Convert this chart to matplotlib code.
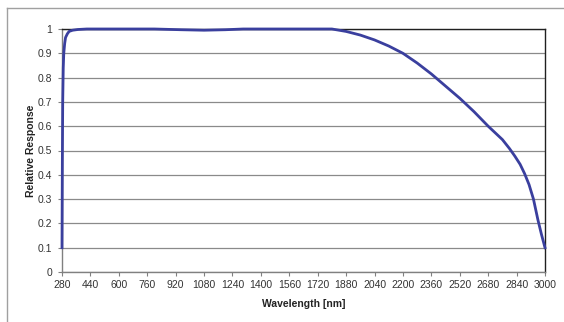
import matplotlib
matplotlib.use("Agg")
import matplotlib.pyplot as plt
from matplotlib.lines import Line2D

wavelength = [280, 282, 284, 287, 290, 295, 300, 310, 320, 340, 370, 420, 600, 800, 950,
              1080, 1200, 1300, 1500, 1700, 1800, 1880, 1960, 2040, 2120, 2200, 2280,
              2360, 2440, 2520, 2600, 2680, 2760, 2800, 2830, 2860, 2885, 2910, 2935, 2960, 2980, 3000]
response = [0.10, 0.45, 0.70, 0.84, 0.90, 0.94, 0.965, 0.98, 0.99, 0.995, 0.998, 1.0, 1.0, 1.0, 0.997,
            0.995, 0.997, 1.0, 1.0, 1.0, 1.0, 0.99, 0.975, 0.955, 0.93, 0.90, 0.86,
            0.815, 0.765, 0.715, 0.66, 0.60, 0.545, 0.508, 0.477, 0.443, 0.405, 0.36, 0.30, 0.215, 0.155, 0.10]
xticks = list(range(280, 3001, 160))
yticks = [0, 0.1, 0.2, 0.3, 0.4, 0.5, 0.6, 0.7, 0.8, 0.9, 1]
ytick_labels = ["0", "0.1", "0.2", "0.3", "0.4", "0.5", "0.6", "0.7", "0.8", "0.9", "1"]

plt.rcParams['font.family'] = ['Liberation Sans', 'DejaVu Sans']

W, H = 564, 322
fig = plt.figure(figsize=(W / 100, H / 100), dpi=100)
ax = fig.add_axes([62 / W, 1 - 272 / H, (545 - 62) / W, (272 - 29) / H])

# outer frame lines (top and left)
fig.add_artist(Line2D([7 / W, 1], [1 - 8 / H, 1 - 8 / H], color="#a0a0a0", lw=1.0, transform=fig.transFigure))
fig.add_artist(Line2D([7 / W, 7 / W], [0, 1 - 8 / H], color="#a0a0a0", lw=1.0, transform=fig.transFigure))

ax.plot(wavelength, response, color="#3a3f9e", lw=2.0, solid_joinstyle="round", zorder=3, clip_on=False)

ax.set_xlim(280, 3000)
ax.set_ylim(0, 1)
ax.set_xticks(xticks)
ax.set_xticklabels([str(v) for v in xticks])
ax.set_yticks(yticks)
ax.set_yticklabels(ytick_labels)
ax.yaxis.grid(True, color="#8a8a8a", lw=0.9)
ax.set_axisbelow(True)

for s in ["left", "bottom"]:
    ax.spines[s].set_color("#808080")
    ax.spines[s].set_linewidth(1.0)
for s in ["top", "right"]:
    ax.spines[s].set_color("#202020")
    ax.spines[s].set_linewidth(1.0)

ax.tick_params(axis="both", direction="out", length=3, width=0.8, color="#808080",
               labelsize=7.5, labelcolor="#333333")
ax.tick_params(axis="x", pad=3)
ax.tick_params(axis="y", pad=4)

ax.set_xlabel("Wavelength [nm]", fontsize=7.5, fontweight="bold", color="#222222", labelpad=6)
ax.set_ylabel("Relative Response", fontsize=7.5, fontweight="bold", color="#222222", labelpad=1)

fig.savefig("out.png", dpi=100)
